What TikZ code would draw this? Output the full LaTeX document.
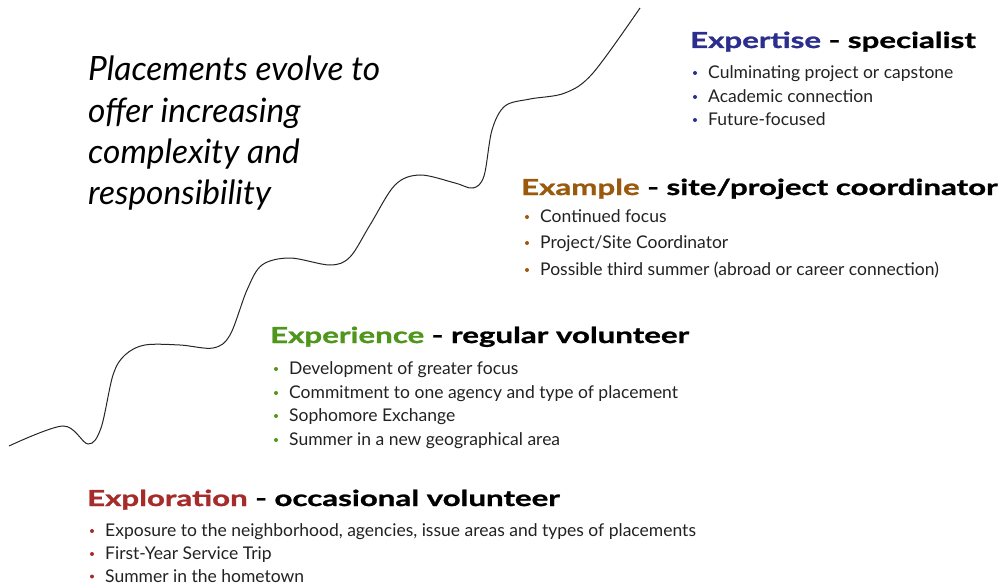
\documentclass[tikz,border=0pt]{standalone}
\usepackage{fontspec}
\setmainfont{Lato}
\newfontfamily\titlefont{Lato}[BoldFeatures={FakeStretch=1.42,FakeBold=1.2}]
\definecolor{cblue}{HTML}{2B2E8C}
\definecolor{cbrown}{HTML}{9A5A0E}
\definecolor{cgreen}{HTML}{4F961C}
\definecolor{cred}{HTML}{A62B2B}
\definecolor{itemgray}{HTML}{222222}
\begin{document}
\begin{tikzpicture}[x=1pt,y=-1pt,
  title/.style={anchor=base west, inner sep=0pt, font=\titlefont\fontsize{22}{26}\selectfont\bfseries},
  item/.style={anchor=base west, inner sep=0pt, font=\fontsize{17.5}{20}\selectfont, text=itemgray},
  dot/.style={circle, fill=#1, draw=none, inner sep=0pt, minimum size=4pt},
  big/.style={anchor=base west, inner sep=0pt, font=\fontsize{33.5}{38}\selectfont\itshape}]
\useasboundingbox (0,0) rectangle (1005,586);

% curve
\draw[line width=1pt, black!85] plot[smooth, tension=0.55] coordinates {
  (9,446) (63,426) (88,444) (101,428) (113,375) (125,355) (145,345) (180,345)
  (213,348) (230,335) (247,290) (262,265) (290,258) (330,265) (350,257)
  (370,225) (395,185) (420,175) (455,183) (473,188) (484,176) (492,130)
  (505,106) (530,99) (565,93) (593,73) (640,8)};

% headline
\node[big] (h1) at (88,81) {Placements evolve to};
\node[big] (h2) at (88,122) {offer increasing};
\node[big] (h3) at (88,163) {complexity and};
\node[big] (h4) at (88,204) {responsibility};

% Expertise
\node[title] (t1) at (690,48) {\textcolor{cblue}{Expertise} - specialist};
\node[dot=cblue] (d11) at (695,73) {};
\node[item] (i11) at (708,78.5) {Culminating project or capstone};
\node[dot=cblue] (d12) at (695,97) {};
\node[item] (i12) at (708,102.5) {Academic connection};
\node[dot=cblue] (d13) at (695,120) {};
\node[item] (i13) at (708,125.5) {Future-focused};

% Example
\node[title] (t2) at (521,195) {\textcolor{cbrown}{Example} - site/project coordinator};
\node[dot=cbrown] (d21) at (527,217) {};
\node[item] (i21) at (540,222.5) {Continued focus};
\node[dot=cbrown] (d22) at (527,243) {};
\node[item] (i22) at (540,248.5) {Project/Site Coordinator};
\node[dot=cbrown] (d23) at (527,270) {};
\node[item] (i23) at (540,275.5) {Possible third summer (abroad or career connection)};

% Experience
\node[title] (t3) at (270,343) {\textcolor{cgreen}{Experience} - regular volunteer};
\node[dot=cgreen] (d31) at (276,369) {};
\node[item] (i31) at (289,374.5) {Development of greater focus};
\node[dot=cgreen] (d32) at (276,393) {};
\node[item] (i32) at (289,398.5) {Commitment to one agency and type of placement};
\node[dot=cgreen] (d33) at (276,416) {};
\node[item] (i33) at (289,421.5) {Sophomore Exchange};
\node[dot=cgreen] (d34) at (276,440) {};
\node[item] (i34) at (289,445.5) {Summer in a new geographical area};

% Exploration
\node[title] (t4) at (87,506) {\textcolor{cred}{Exploration} - occasional volunteer};
\node[dot=cred] (d41) at (92,531) {};
\node[item] (i41) at (105,536.5) {Exposure to the neighborhood, agencies, issue areas and types of placements};
\node[dot=cred] (d42) at (92,554) {};
\node[item] (i42) at (105,559.5) {First-Year Service Trip};
\node[dot=cred] (d43) at (92,576.5) {};
\node[item] (i43) at (105,582) {Summer in the hometown};
\end{tikzpicture}
\end{document}
